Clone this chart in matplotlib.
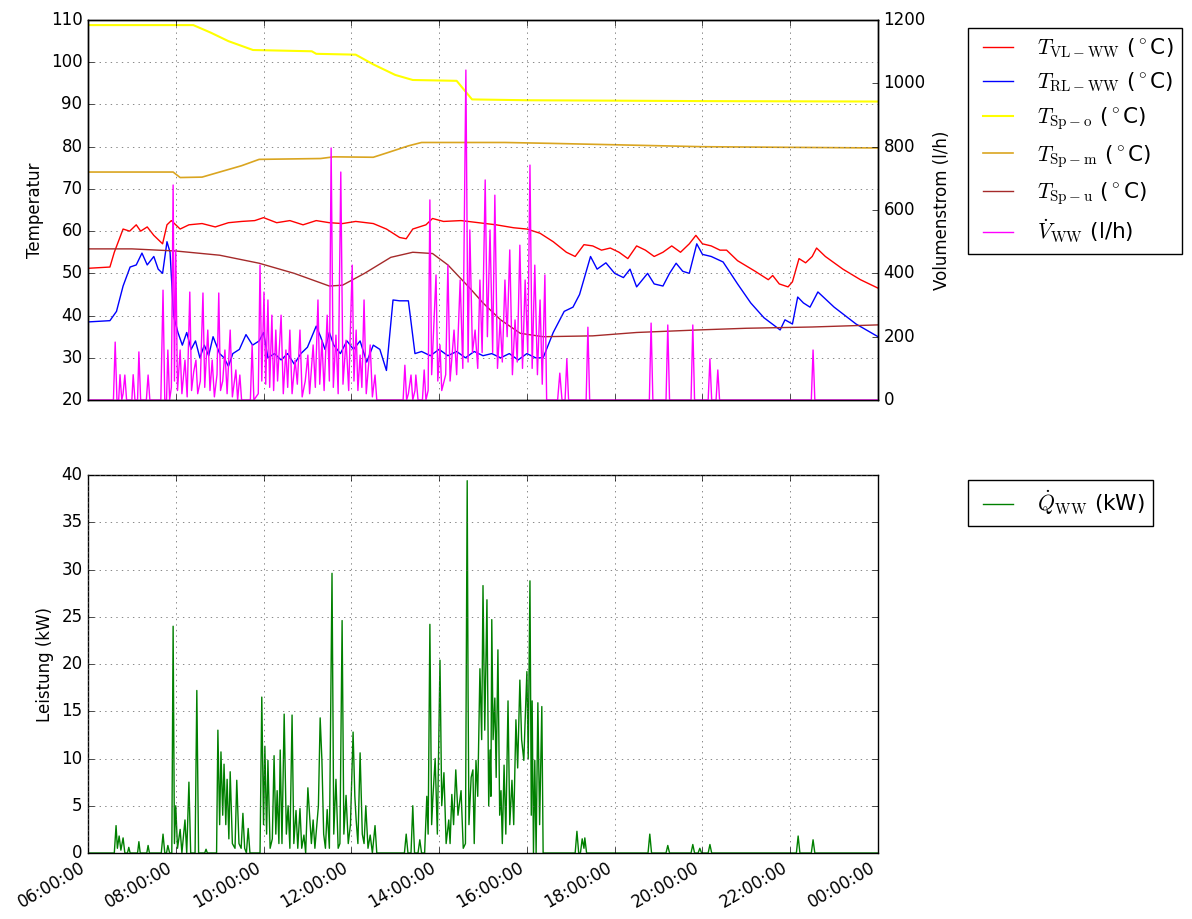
import datetime as dt
import matplotlib
matplotlib.use('Agg')
import matplotlib.pyplot as plt
import matplotlib.dates as mdates

plt.style.use('classic')

# --- Daten (Stunden ab Mitternacht) ---
vl_h = [6.0, 6.5, 6.6, 6.8, 6.95, 7.1, 7.2, 7.35, 7.5, 7.7, 7.8, 7.9, 8.1, 8.3, 8.6, 8.9, 9.2, 9.5,
        9.8, 10.0, 10.3, 10.6, 10.9, 11.2, 11.5, 11.8, 12.1, 12.5, 12.8, 13.1, 13.25, 13.4, 13.7,
        13.85, 14.1, 14.5, 14.9, 15.3, 15.7, 16.0, 16.3, 16.6, 16.9, 17.1, 17.3, 17.5, 17.7, 17.9,
        18.1, 18.3, 18.5, 18.7, 18.9, 19.1, 19.3, 19.5, 19.7, 19.85, 20.0, 20.2, 20.4, 20.55, 20.8,
        21.2, 21.5, 21.6, 21.75, 21.95, 22.05, 22.2, 22.35, 22.5, 22.6, 22.8, 23.2, 23.6, 24.0]
vl_T = [51.2, 51.5, 55, 60.5, 60, 61.5, 60, 61, 59, 57, 61.5, 62.5, 60.5, 61.5, 61.8, 61, 62, 62.3,
        62.5, 63.2, 62, 62.5, 61.5, 62.5, 62, 61.8, 62.3, 61.8, 60.5, 58.5, 58.2, 60.5, 61.5,
        63, 62.3, 62.5, 62, 61.5, 60.8, 60.5, 59.5, 57.5, 55, 54, 56.8, 56.5, 55.5, 56,
        55, 53.5, 56.5, 55.5, 54, 55, 56.5, 55, 57, 59, 57, 56.5, 55.5, 55.5, 53,
        50.5, 48.5, 49.5, 47.5, 46.8, 48, 53.5, 52.5, 54, 56, 54, 51, 48.5, 46.5]

rl_h = [6.0, 6.5, 6.65, 6.8, 6.96, 7.1, 7.23, 7.35, 7.5, 7.6, 7.7, 7.8, 7.87, 7.95, 8.05, 8.15,
        8.25, 8.35, 8.45, 8.55, 8.65, 8.75, 8.85, 9.0, 9.1, 9.2, 9.3, 9.45, 9.6, 9.75, 9.9, 10.0,
        10.1, 10.25, 10.4, 10.55, 10.7, 10.85, 11.0, 11.1, 11.2, 11.3, 11.4, 11.5, 11.6, 11.75,
        11.9, 12.05, 12.2, 12.35, 12.5, 12.65, 12.8, 12.88, 12.95, 13.1, 13.3, 13.45, 13.6, 13.8,
        14.0, 14.2, 14.4, 14.6, 14.8, 15.0, 15.2, 15.4, 15.6, 15.8, 16.0, 16.2, 16.37, 16.6,
        16.85, 17.05, 17.2, 17.45, 17.6, 17.8, 18.0, 18.2, 18.35, 18.5, 18.75, 18.9, 19.1, 19.25,
        19.4, 19.55, 19.7, 19.87, 20.0, 20.2, 20.47, 20.8, 21.1, 21.4, 21.77, 21.88, 22.05, 22.17,
        22.3, 22.45, 22.63, 23.0, 23.5, 24.0]
rl_T = [38.5, 38.8, 41, 47, 51.5, 52, 54.8, 52, 54, 51, 50, 57.5, 55, 40, 36, 33,
        36, 32, 34, 30, 33, 30.5, 35, 31, 30, 28, 31, 32, 35.5, 33, 34, 36,
        30, 31, 29.5, 31, 28.5, 31, 32.5, 35, 37.5, 35, 32, 36, 33, 31,
        34, 32, 34, 29, 33, 32, 27, 36, 43.7, 43.5, 43.5, 31, 31.5, 30.5,
        32, 30.5, 31.5, 30, 31.5, 30.5, 31, 30, 31, 29.5, 31, 30, 30, 36,
        41, 42, 45, 54, 51, 52.5, 50, 49, 51, 46.8, 50, 47.5, 47, 50,
        52.4, 50.5, 50, 57, 54.5, 54, 52.7, 47.5, 43, 39.5, 36.6, 39, 38, 44.4,
        43, 42, 45.6, 42, 38, 35]

spo_h = [6.0, 8.4, 8.8, 9.2, 9.76, 11.1, 11.2, 12.1, 12.5, 13.0, 13.4, 14.4, 14.75, 16.0, 20.0, 24.0]
spo_T = [108.8, 108.8, 107, 105, 102.9, 102.6, 102, 101.8, 99.5, 97, 95.8, 95.6, 91.2, 91, 90.8, 90.7]

spm_h = [6.0, 7.94, 8.1, 8.6, 9.0, 9.5, 9.9, 11.3, 11.6, 12.5, 12.8, 13.3, 13.6, 15.5, 16.5, 20.0, 24.0]
spm_T = [74, 74, 72.7, 72.8, 74, 75.5, 77, 77.2, 77.6, 77.5, 78.5, 80.2, 81, 81, 80.8, 80, 79.7]

spu_h = [6.0, 7.0, 8.0, 9.0, 9.9, 10.7, 11.5, 11.8, 12.3, 12.9, 13.4, 13.85, 14.2, 14.7, 15.0,
         15.4, 15.85, 16.37, 17.5, 18.5, 19.9, 21.0, 22.5, 24.0]
spu_T = [55.8, 55.8, 55.3, 54.3, 52.4, 50, 47, 47.2, 50, 53.8, 55, 54.7, 52, 46.5, 43,
         39, 35.8, 35, 35.2, 36, 36.6, 37, 37.3, 37.8]

flow_h = [6.00, 6.58, 6.62, 6.66, 6.70, 6.73, 6.77, 6.80, 6.84, 6.88, 7.00, 7.03, 7.07, 7.13, 7.16,
          7.20, 7.33, 7.37, 7.41, 7.66, 7.71, 7.75, 7.79, 7.82, 7.86, 7.90, 7.94, 7.97, 8.00, 8.04,
          8.10, 8.14, 8.21, 8.26, 8.32, 8.36, 8.41, 8.46, 8.50, 8.56, 8.62, 8.66, 8.73, 8.78, 8.83,
          8.88, 8.94, 8.98, 9.02, 9.07, 9.12, 9.17, 9.24, 9.29, 9.37, 9.41, 9.46, 9.50, 9.70, 9.74,
          9.78, 9.88, 9.92, 9.96, 10.01, 10.05, 10.10, 10.14, 10.19, 10.23, 10.28, 10.32, 10.40,
          10.45, 10.51, 10.55, 10.60, 10.65, 10.72, 10.77, 10.83, 10.88, 10.95, 11.01, 11.05, 11.13,
          11.18, 11.24, 11.28, 11.33, 11.38, 11.45, 11.50, 11.54, 11.59, 11.65, 11.70, 11.76, 11.81,
          11.88, 11.94, 12.02, 12.06, 12.11, 12.15, 12.20, 12.24, 12.29, 12.34, 12.43, 12.48, 12.54,
          12.58, 13.18, 13.22, 13.26, 13.30, 13.36, 13.40, 13.45, 13.47, 13.52, 13.62, 13.66, 13.70,
          13.75, 13.79, 13.83, 13.93, 13.97, 14.02, 14.06, 14.15, 14.20, 14.25, 14.34, 14.40, 14.48,
          14.54, 14.61, 14.66, 14.70, 14.76, 14.82, 14.88, 14.93, 14.98, 15.05, 15.10, 15.16, 15.22,
          15.27, 15.33, 15.39, 15.44, 15.50, 15.55, 15.61, 15.67, 15.73, 15.78, 15.84, 15.90, 15.96,
          16.02, 16.07, 16.12, 16.18, 16.24, 16.30, 16.35, 16.41, 16.45, 16.70, 16.75, 16.80, 16.87,
          16.91, 16.95, 17.35, 17.39, 17.43, 18.79, 18.83, 18.87, 19.17, 19.21, 19.25, 19.74, 19.78,
          19.82, 20.13, 20.17, 20.21, 20.31, 20.35, 20.39, 22.48, 22.52, 22.56, 24.00]
flow_v = [0, 0, 183, 0, 0, 80, 0, 20, 79, 0, 0, 80, 0, 0, 152,
          0, 0, 79, 0, 0, 347, 0, 0, 158, 0, 40, 679, 60, 474, 30,
          158, 20, 126, 10, 341, 30, 90, 126, 20, 60, 338, 40, 221, 30, 126,
          10, 80, 338, 30, 60, 158, 20, 221, 10, 95, 0, 79, 0, 0, 174,
          0, 20, 426, 60, 341, 50, 316, 40, 268, 30, 221, 60, 268,
          20, 158, 40, 221, 20, 126, 50, 221, 10, 60, 142, 20, 174,
          40, 316, 50, 189, 30, 268, 60, 796, 40, 205, 20, 720, 50,
          189, 30, 426, 60, 221, 30, 142, 40, 316, 20, 174, 10, 79,
          0, 0, 110, 0, 20, 79, 0, 30, 79, 0, 0, 95, 0,
          30, 632, 80, 395, 60, 174, 30, 80, 426, 60, 221, 80, 379,
          100, 1042, 120, 537, 150, 221, 100, 379, 150, 695, 200, 537, 150,
          647, 100, 253, 120, 379, 200, 474, 80, 253, 120, 489, 100, 379,
          150, 742, 100, 426, 80, 316, 50, 395, 0, 0, 85, 0, 0,
          130, 0, 0, 230, 0, 0, 243, 0, 0, 237, 0, 0, 237,
          0, 0, 130, 0, 0, 95, 0, 0, 158, 0, 0]

power_h = [6.00, 6.60, 6.64, 6.67, 6.71, 6.75, 6.80, 6.84, 6.90, 6.93, 6.96, 7.13, 7.16, 7.19, 7.34,
           7.37, 7.40, 7.67, 7.71, 7.75, 7.79, 7.82, 7.86, 7.91, 7.94, 7.97, 8.00, 8.04, 8.10, 8.14,
           8.21, 8.25, 8.30, 8.34, 8.44, 8.48, 8.52, 8.66, 8.69, 8.72, 8.93, 8.96, 9.00, 9.03, 9.07,
           9.10, 9.14, 9.17, 9.21, 9.24, 9.29, 9.35, 9.39, 9.44, 9.49, 9.53, 9.57, 9.61, 9.65, 9.69,
           9.92, 9.96, 10.00, 10.03, 10.07, 10.10, 10.15, 10.20, 10.24, 10.28, 10.31, 10.35, 10.38,
           10.42, 10.47, 10.52, 10.56, 10.60, 10.65, 10.69, 10.74, 10.78, 10.83, 10.87, 10.92, 10.96,
           11.01, 11.05, 11.09, 11.13, 11.17, 11.25, 11.29, 11.33, 11.37, 11.41, 11.45, 11.50, 11.56,
           11.60, 11.65, 11.70, 11.74, 11.79, 11.83, 11.88, 11.93, 11.98, 12.04, 12.08, 12.11, 12.15,
           12.20, 12.25, 12.29, 12.33, 12.38, 12.43, 12.48, 12.54, 12.58, 13.21, 13.25, 13.29, 13.36,
           13.40, 13.44, 13.52, 13.56, 13.60, 13.67, 13.72, 13.75, 13.79, 13.83, 13.86, 13.91, 13.96,
           14.02, 14.06, 14.11, 14.16, 14.22, 14.25, 14.29, 14.33, 14.38, 14.43, 14.50, 14.55, 14.60,
           14.64, 14.66, 14.68, 14.73, 14.77, 14.80, 14.84, 14.88, 14.93, 14.97, 15.00, 15.04, 15.09,
           15.13, 15.16, 15.18, 15.20, 15.23, 15.27, 15.30, 15.34, 15.38, 15.41, 15.44, 15.48, 15.52,
           15.57, 15.61, 15.66, 15.70, 15.75, 15.79, 15.84, 15.88, 15.93, 15.96, 16.00, 16.03, 16.07,
           16.10, 16.12, 16.15, 16.18, 16.21, 16.25, 16.29, 16.34, 16.37, 17.10, 17.14, 17.18, 17.22,
           17.26, 17.30, 17.32, 17.36, 18.76, 18.80, 18.84, 19.17, 19.21, 19.25, 19.74, 19.78, 19.82,
           19.90, 19.94, 19.98, 20.13, 20.17, 20.21, 22.14, 22.18, 22.22, 22.48, 22.52, 22.56, 24.00]
power_kw = [0, 0, 2.9, 0.5, 1.8, 0.3, 1.6, 0, 0, 0.6, 0, 0, 1.2, 0, 0,
            0.8, 0, 0, 2.0, 0, 0, 0.8, 0, 0, 24.0, 1.0, 5.0, 0.5, 2.5, 0,
            3.5, 0, 7.5, 0, 0, 17.2, 0, 0, 0.4, 0, 0, 13.0, 3.0, 10.7, 4.0,
            9.4, 3.0, 7.8, 1.5, 8.6, 1.0, 0.5, 7.7, 1.0, 0.5, 4.2, 0.5, 0, 2.6, 0,
            0, 16.5, 3.0, 11.3, 2.0, 9.8, 0.5, 1.5, 10.3, 2.0, 6.6, 1.0, 10.9,
            1.0, 14.7, 2.0, 5.0, 0.5, 14.6, 1.0, 4.5, 0.5, 4.7, 0.5, 1.9, 0,
            6.9, 4.0, 1.0, 3.5, 0.5, 5.0, 14.3, 9.8, 2.0, 0.5, 4.6, 0.5, 29.6,
            2.0, 7.8, 0.5, 1.0, 24.6, 2.0, 6.1, 1.0, 3.0, 12.8, 6.0, 3.5, 1.0,
            10.6, 2.0, 1.0, 5.0, 0.5, 1.9, 0, 2.9, 0, 0, 2.0, 0, 0,
            5.0, 0, 0, 1.4, 0, 0, 6.0, 2.0, 24.2, 3.0, 6.0, 10.0, 2.0,
            20.4, 5.0, 8.5, 1.0, 3.5, 1.0, 6.2, 3.0, 8.8, 4.0, 6.6, 0.5, 1.0,
            39.4, 17.0, 3.0, 8.0, 8.8, 1.0, 9.8, 6.0, 19.5, 12.0, 28.3, 13.0, 26.8,
            5.0, 10.9, 6.0, 24.7, 12.0, 16.4, 8.0, 21.5, 4.0, 6.6, 1.0, 9.3, 2.0,
            16.1, 3.0, 7.7, 3.0, 14.1, 9.0, 18.3, 12.0, 9.8, 14.0, 19.2, 10.0, 28.8,
            4.0, 16.1, 0, 9.8, 0, 15.9, 3.0, 15.5, 0, 0, 2.3, 0, 0,
            1.5, 0.5, 1.6, 0, 0, 2.0, 0, 0, 0.8, 0, 0, 0.9, 0,
            0, 0.5, 0, 0, 0.9, 0, 0, 1.8, 0, 0, 1.4, 0, 0]

base = dt.datetime(2016, 1, 1)


def to_time(hours):
    return [base + dt.timedelta(hours=h) for h in hours]


fig = plt.figure(figsize=(11.92, 9.19), dpi=100, facecolor='white')
ax1 = fig.add_axes([0.0738, 0.5647, 0.6628, 0.4135])
ax2 = ax1.twinx()
ax3 = fig.add_axes([0.0738, 0.0718, 0.6628, 0.4113], sharex=ax1)

l1, = ax1.plot(to_time(vl_h), vl_T, color='red', label=r'$T_{\mathrm{VL-WW}}$ ($^\circ$C)')
l2, = ax1.plot(to_time(rl_h), rl_T, color='blue', label=r'$T_{\mathrm{RL-WW}}$ ($^\circ$C)')
l3, = ax1.plot(to_time(spo_h), spo_T, color='yellow', lw=1.5, label=r'$T_{\mathrm{Sp-o}}$ ($^\circ$C)')
l4, = ax1.plot(to_time(spm_h), spm_T, color='goldenrod', lw=1.2, label=r'$T_{\mathrm{Sp-m}}$ ($^\circ$C)')
l5, = ax1.plot(to_time(spu_h), spu_T, color='brown', label=r'$T_{\mathrm{Sp-u}}$ ($^\circ$C)')
l6, = ax2.plot(to_time(flow_h), flow_v, color='magenta', label=r'$\dot{V}_{\mathrm{WW}}$ (l/h)')

ax1.set_ylim(20, 110)
ax1.set_yticks(range(20, 111, 10))
ax2.set_ylim(0, 1200)
ax2.set_yticks(range(0, 1201, 200))
ax1.set_ylabel('Temperatur')
ax2.set_ylabel('Volumenstrom (l/h)')
ax1.grid(True, color='0.35')
plt.setp(ax1.get_xticklabels(), visible=False)

handles = [l1, l2, l3, l4, l5, l6]
ax1.legend(handles, [h.get_label() for h in handles], loc='upper left',
           bbox_to_anchor=(1.114, 0.98), borderaxespad=0., fontsize=15.5)

l7, = ax3.plot(to_time(power_h), power_kw, color='green', label=r'$\dot{Q}_{\mathrm{WW}}$ (kW)')
ax3.set_ylim(0, 40)
ax3.set_yticks(range(0, 41, 5))
ax3.set_ylabel('Leistung (kW)')
ax3.grid(True, color='0.35')
ax3.legend(loc='upper left', bbox_to_anchor=(1.114, 0.987), borderaxespad=0., fontsize=15.5)

ax3.set_xlim(base + dt.timedelta(hours=6), base + dt.timedelta(hours=24))
ax3.xaxis.set_major_locator(mdates.HourLocator(byhour=range(0, 24, 2)))
ax3.xaxis.set_major_formatter(mdates.DateFormatter('%H:%M:%S'))
plt.setp(ax3.get_xticklabels(), rotation=30, ha='right')

fig.savefig('out.png', dpi=100, facecolor='white')
